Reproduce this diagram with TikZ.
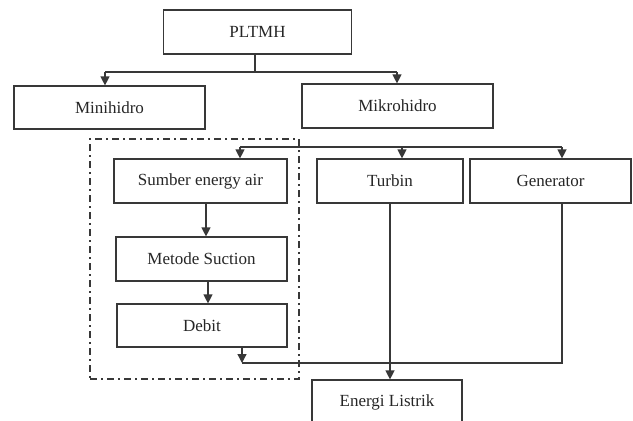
\documentclass[tikz,border=0pt]{standalone}
\usepackage{fontspec}
\setmainfont{Liberation Serif}
\usetikzlibrary{positioning,arrows.meta,fit}
\definecolor{ink}{HTML}{383838}
\definecolor{txt}{HTML}{262626}
\tikzset{
  box/.style={draw=ink, fill=white, line width=1.2pt, align=center, font=\fontsize{17}{19}\selectfont\color{txt}, inner sep=0pt, minimum height=44pt},
  line/.style={draw=ink, line width=1.3pt},
  flow/.style={line, -{Triangle[length=9pt, width=9pt]}},
  frame/.style={draw=ink, line width=1.7pt, dash pattern=on 7pt off 4pt on 2pt off 4pt, inner sep=0pt},
}

\begin{document}
\begin{tikzpicture}[x=1pt, y=-1pt]
    \clip (0,0) rectangle (633,421);
    % top: PLTMH and its two kinds
    \node[box, minimum width=188pt] (pltmh) at (257.5,32) {PLTMH};
    \node[box, minimum width=191pt, minimum height=43pt] (mini) at (109.5,107.5) {Minihidro};
    \node[box, minimum width=191pt] (mikro) at (397.5,106) {Mikrohidro};
    % group: water source
    \node[frame, fit={(90,139) (299,379)}] (grp) {};
    \node[box, minimum width=173pt] (sumber) at (200.5,181) {Sumber energy air};
    \node[box, minimum width=171pt] (metode) at (201.5,259) {Metode Suction};
    \node[box, minimum width=170pt, minimum height=43pt] (debit) at (202,325.5) {Debit};
    % row: machines
    \node[box, minimum width=146pt] (turbin) at (390,181) {Turbin};
    \node[box, minimum width=161pt] (gen) at (550.5,181) {Generator};
    \node[box, minimum width=150pt] (listrik) at (387,402) {Energi Listrik};
    % flows from PLTMH
    \coordinate (fork) at (255,72);
    \coordinate (forkL) at (105,72);
    \coordinate (forkR) at (397,72);
    \draw[line] (fork |- pltmh.south) -- (fork);
    \draw[line] (forkL) -- (forkR);
    \draw[flow] (forkL) -- (forkL |- mini.north);
    \draw[flow] (forkR) -- (forkR |- mikro.north);
    % bus over the lower row
    \coordinate (busL) at (240,147);
    \coordinate (busT) at (402,147);
    \coordinate (busR) at (562,147);
    \draw[line] (busL) -- (busR);
    \draw[flow] (busL) -- (busL |- sumber.north);
    \draw[flow] (busT) -- (busT |- turbin.north);
    \draw[flow] (busR) -- (busR |- gen.north);
    % inside the group
    \draw[flow] ([xshift=5.5pt]sumber.south) -- ([xshift=4.5pt]metode.north);
    \draw[flow] ([xshift=6.5pt]metode.south) -- ([xshift=6pt]debit.north);
    % to Energi Listrik
    \coordinate (join) at (242,363);
    \draw[line] (busR |- gen.south) |- (join);
    \draw[flow] (join |- debit.south) -- (join);
    \draw[flow] (turbin.south) -- (turbin.south |- listrik.north);
\end{tikzpicture}
\end{document}
